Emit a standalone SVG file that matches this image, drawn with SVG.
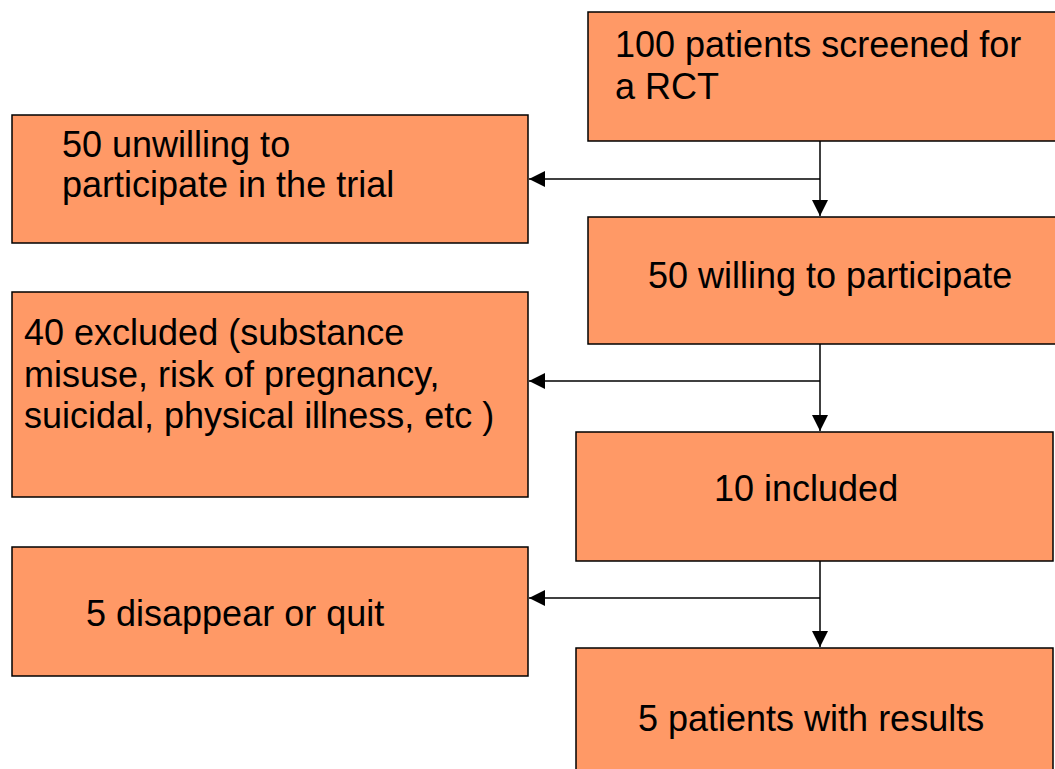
<svg xmlns="http://www.w3.org/2000/svg" width="1055" height="769" viewBox="0 0 1055 769">
<style>
.box{fill:#FF9966;stroke:#000;stroke-width:1.5}
.t{font-family:"Liberation Sans",Arial,sans-serif;font-size:36px;fill:#000}
.c{fill:none;stroke:#000;stroke-width:1.5}
</style>
<defs>
<marker id="ah" viewBox="0 0 16 16" refX="16" refY="8" markerWidth="16" markerHeight="16" markerUnits="userSpaceOnUse" orient="auto">
<path d="M0,0 L16,8 L0,16 Z" fill="#000"/>
</marker>
</defs>
<rect width="1055" height="769" fill="#fff"/>
<g id="connectors">
<path class="c" d="M820,141 V216" marker-end="url(#ah)"/>
<path class="c" d="M820,179 H529" marker-end="url(#ah)"/>
<path class="c" d="M820,344 V431" marker-end="url(#ah)"/>
<path class="c" d="M820,381 H529" marker-end="url(#ah)"/>
<path class="c" d="M820,561 V647" marker-end="url(#ah)"/>
<path class="c" d="M820,598 H529" marker-end="url(#ah)"/>
</g>
<g id="n1">
<rect class="box" x="588" y="12" width="470" height="129"/>
<text class="t" x="615" y="57">100 patients screened for</text>
<text class="t" x="615" y="99">a RCT</text>
</g>
<g id="n2">
<rect class="box" x="12" y="115" width="516" height="128"/>
<text class="t" x="62" y="157">50 unwilling to</text>
<text class="t" x="62" y="197">participate in the trial</text>
</g>
<g id="n3">
<rect class="box" x="588" y="217" width="470" height="127"/>
<text class="t" x="648" y="288">50 willing to participate</text>
</g>
<g id="n4">
<rect class="box" x="12" y="292" width="516" height="205"/>
<text class="t" x="24" y="345">40 excluded (substance</text>
<text class="t" x="24" y="387">misuse, risk of pregnancy,</text>
<text class="t" x="24" y="428">suicidal, physical illness, etc )</text>
</g>
<g id="n5">
<rect class="box" x="576" y="432" width="477" height="129"/>
<text class="t" x="714" y="501">10 included</text>
</g>
<g id="n6">
<rect class="box" x="12" y="547" width="516" height="129"/>
<text class="t" x="86" y="626">5 disappear or quit</text>
</g>
<g id="n7">
<rect class="box" x="576" y="648" width="477" height="130"/>
<text class="t" x="638" y="731">5 patients with results</text>
</g>
</svg>
